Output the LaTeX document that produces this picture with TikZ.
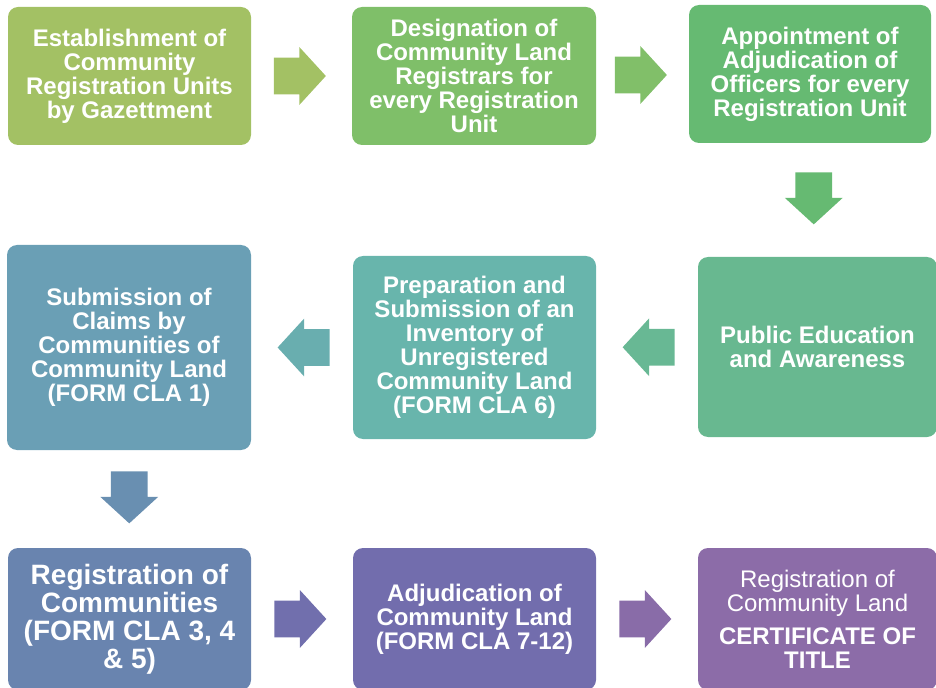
\documentclass[tikz,border=0pt]{standalone}
\usepackage{fontspec}
\setmainfont{Liberation Sans}
\usetikzlibrary{shapes.arrows,calc}

\definecolor{cla1}{HTML}{A3C164}
\definecolor{cla2}{HTML}{7FBF69}
\definecolor{cla3}{HTML}{66BA72}
\definecolor{cla4}{HTML}{6A9FB5}
\definecolor{cla5}{HTML}{68B5AC}
\definecolor{cla6}{HTML}{68B890}
\definecolor{cla7}{HTML}{6984AF}
\definecolor{cla8}{HTML}{726DAD}
\definecolor{cla9}{HTML}{8C6CA8}

\begin{document}
\begin{tikzpicture}[x=0.75pt,y=-0.75pt,
  stepbox/.style={rectangle,rounded corners=7.5pt,text=white,align=center,inner sep=0pt,
    font=\bfseries\fontsize{18}{18}\selectfont},
  blockarr/.style={single arrow,minimum height=39pt,inner xsep=0pt,inner ysep=13.5pt,
    single arrow head extend=7.9pt,single arrow tip angle=95},
  rightarr/.style={blockarr,xshift=-7.5pt},
  leftarr/.style={blockarr,shape border rotate=180,xshift=7.5pt},
  downarr/.style={blockarr,inner xsep=13.5pt,inner ysep=0pt,shape border rotate=270,yshift=7.5pt}]
\useasboundingbox (0,0) rectangle (936,688);

\node[stepbox,fill=cla1,minimum width=182.25pt,minimum height=103.5pt] (gazette) at (129.5,76)
  {Establishment of\\Community\\Registration Units\\by Gazettment};
\node[stepbox,fill=cla2,minimum width=183pt,minimum height=103.5pt] (registrars) at (474,76)
  {Designation of\\Community Land\\Registrars for\\every Registration\\Unit};
\node[stepbox,fill=cla3,minimum width=181.5pt,minimum height=103.5pt] (officers) at (810,74)
  {Appointment of\\Adjudication of\\Officers for every\\Registration Unit};

\node[stepbox,fill=cla6,minimum width=179.25pt,minimum height=135pt] (awareness) at (817.5,347)
  {Public Education\\and Awareness};
\node[stepbox,fill=cla5,minimum width=182.25pt,minimum height=137.25pt] (inventory) at (474.5,347.5)
  {Preparation and\\Submission of an\\Inventory of\\Unregistered\\Community Land\\(FORM CLA 6)};
\node[stepbox,fill=cla4,minimum width=183pt,minimum height=153.75pt] (claims) at (129,347.5)
  {Submission of\\Claims by\\Communities of\\Community Land\\(FORM CLA 1)};

\node[stepbox,fill=cla7,minimum width=182.25pt,minimum height=106.5pt,
  font=\bfseries\fontsize{21}{21}\selectfont] (communities) at (129.5,619)
  {Registration of\\Communities\\(FORM CLA 3, 4\\\& 5)};
\node[stepbox,fill=cla8,minimum width=182.25pt,minimum height=106.5pt] (adjudication) at (474.5,619)
  {Adjudication of\\Community Land\\(FORM CLA 7-12)};
\node[stepbox,fill=cla9,minimum width=179.25pt,minimum height=106.5pt] (title) at (817.5,619)
  {\mdseries Registration of\\\mdseries Community Land\\[6.75pt]\bfseries CERTIFICATE OF\\\bfseries TITLE};

\node[rightarr,fill=cla1] (a1) at ($(gazette.east)!0.5!(registrars.west)$) {};
\node[rightarr,fill=cla2!95!cla1] (a2) at ($(registrars.east)!0.5!(officers.west)$) {};
\node[downarr,fill=cla3] (a3) at ($(officers.south)!0.5!(awareness.north)$) {};
\node[leftarr,fill=cla6!85!cla5] (a4) at ($(awareness.west)!0.5!(inventory.east)$) {};
\node[leftarr,fill=cla5!70!cla4] (a5) at ($(inventory.west)!0.5!(claims.east)$) {};
\node[downarr,fill=cla4!40!cla7] (a6) at ($(claims.south)!0.5!(communities.north)$) {};
\node[rightarr,fill=cla8!90!cla7] (a7) at ($(communities.east)!0.5!(adjudication.west)$) {};
\node[rightarr,fill=cla9!90!cla8] (a8) at ($(adjudication.east)!0.5!(title.west)$) {};

\end{tikzpicture}
\end{document}
